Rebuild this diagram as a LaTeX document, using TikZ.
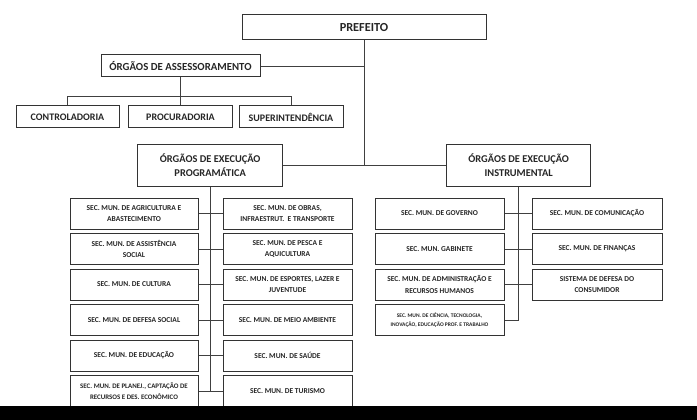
\documentclass[tikz,border=0pt]{standalone}
\usepackage{fontspec}
\setmainfont{Carlito}
\begin{document}
\begin{tikzpicture}[x=1pt, y=-1pt,
	box/.style = {draw=black!80, line width=1pt, fill=white, inner sep=0pt, align=center, text=black!85, font=\bfseries},
	orgao/.style = {box, font=\bfseries\fontsize{10.4}{14}\selectfont},
	secbox/.style = {box, minimum height=31pt, font=\bfseries\fontsize{7.5}{11.7}\selectfont},
	ligacao/.style = {draw=black!75, line width=0.7pt}]
	\useasboundingbox (0,0) rectangle (697,420);

	\node [box, minimum width=244pt, minimum height=25pt, font=\bfseries\fontsize{12.3}{14}\selectfont] (pref) at (364,27.5) {PREFEITO};
	\node [box, minimum width=159pt, minimum height=22pt, font=\bfseries\fontsize{10.8}{12}\selectfont] (ass) at (180.5,66) {ÓRGÃOS DE ASSESSORAMENTO};
	\node [box, minimum width=103pt, minimum height=22pt, font=\bfseries\fontsize{10}{12}\selectfont] (ctrl) at (67.5,117) {CONTROLADORIA};
	\node [box, minimum width=104pt, minimum height=22pt, font=\bfseries\fontsize{10}{12}\selectfont] (proc) at (180.5,117) {PROCURADORIA};
	\node [box, minimum width=104pt, minimum height=22pt, font=\bfseries\fontsize{10}{12}\selectfont] (sup) at (291,117) {SUPERINTENDÊNCIA};

	\node [orgao, minimum width=145pt, minimum height=42pt] (prog) at (210.2,165) {ÓRGÃOS DE EXECUÇÃO\\PROGRAMÁTICA};
	\node [orgao, minimum width=144pt, minimum height=42pt] (instr) at (518.7,165) {ÓRGÃOS DE EXECUÇÃO\\INSTRUMENTAL};

	\node [secbox, minimum width=128pt] (pa1) at (134,213.5) {SEC. MUN. DE AGRICULTURA E\\ABASTECIMENTO};
	\node [secbox, minimum width=128pt] (pa2) at (134,249) {SEC. MUN. DE ASSISTÊNCIA\\SOCIAL};
	\node [secbox, minimum width=128pt] (pa3) at (134,284.5) {SEC. MUN. DE CULTURA};
	\node [secbox, minimum width=128pt] (pa4) at (134,320) {SEC. MUN. DE DEFESA SOCIAL};
	\node [secbox, minimum width=128pt] (pa5) at (134,355.5) {SEC. MUN. DE EDUCAÇÃO};
	\node [secbox, minimum width=128pt, font=\bfseries\fontsize{6.9}{11.5}\selectfont] (pa6) at (134,391) {SEC. MUN. DE PLANEJ., CAPTAÇÃO DE\\RECURSOS E DES. ECONÔMICO};

	\node [secbox, minimum width=129pt] (pb1) at (287.5,213.5) {SEC. MUN. DE OBRAS,\\INFRAESTRUT.\ \ E TRANSPORTE};
	\node [secbox, minimum width=129pt] (pb2) at (287.5,249) {SEC. MUN. DE PESCA E\\AQUICULTURA};
	\node [secbox, minimum width=129pt] (pb3) at (287.5,284.5) {SEC. MUN. DE ESPORTES, LAZER E\\JUVENTUDE};
	\node [secbox, minimum width=129pt] (pb4) at (287.5,320) {SEC. MUN. DE MEIO AMBIENTE};
	\node [secbox, minimum width=129pt] (pb5) at (287.5,355.5) {SEC. MUN. DE SAÚDE};
	\node [secbox, minimum width=129pt] (pb6) at (287.5,391) {SEC. MUN. DE TURISMO};

	\node [secbox, minimum width=129pt] (ia1) at (439.5,213.5) {SEC. MUN. DE GOVERNO};
	\node [secbox, minimum width=129pt] (ia2) at (439.5,249) {SEC. MUN. GABINETE};
	\node [secbox, minimum width=129pt] (ia3) at (439.5,284.5) {SEC. MUN. DE ADMINISTRAÇÃO E\\RECURSOS HUMANOS};
	\node [secbox, minimum width=129pt, font=\bfseries\fontsize{5.5}{9}\selectfont] (ia4) at (439.5,320) {SEC. MUN. DE CIÊNCIA, TECNOLOGIA,\\INOVAÇÃO, EDUCAÇÃO PROF. E TRABALHO};

	\node [secbox, minimum width=130pt] (ib1) at (597,213.5) {SEC. MUN. DE COMUNICAÇÃO};
	\node [secbox, minimum width=130pt] (ib2) at (597,249) {SEC. MUN. DE FINANÇAS};
	\node [secbox, minimum width=130pt] (ib3) at (597,284.5) {SISTEMA DE DEFESA DO\\CONSUMIDOR};

	\path (ass.south) ++(0,19) coordinate (asbus);
	\draw [ligacao] (ass.east) -| (pref.south);
	\draw [ligacao] (pref.south) -- (pref.south |- instr.west);
	\draw [ligacao] (prog.east) -- (instr.west);
	\draw [ligacao] (ass.south) -- (asbus);
	\draw [ligacao] (ctrl.north) |- (asbus) -| (sup.north);
	\draw [ligacao] (proc.north) -- (proc.north |- asbus);

	\draw [ligacao] (prog.south) -- (prog.south |- pa6.east);
	\draw [ligacao] (pa1.east) -- (pb1.west);
	\draw [ligacao] (pa2.east) -- (pb2.west);
	\draw [ligacao] (pa3.east) -- (pb3.west);
	\draw [ligacao] (pa4.east) -- (pb4.west);
	\draw [ligacao] (pa5.east) -- (pb5.west);
	\draw [ligacao] (pa6.east) -- (pb6.west);

	\draw [ligacao] (instr.south) -- (instr.south |- ia4.east);
	\draw [ligacao] (ia1.east) -- (ib1.west);
	\draw [ligacao] (ia2.east) -- (ib2.west);
	\draw [ligacao] (ia3.east) -- (ib3.west);
	\draw [ligacao] (ia4.east) -- (instr.south |- ia4.east);

	\fill [black] (0,406) rectangle (697,420);
\end{tikzpicture}
\end{document}
